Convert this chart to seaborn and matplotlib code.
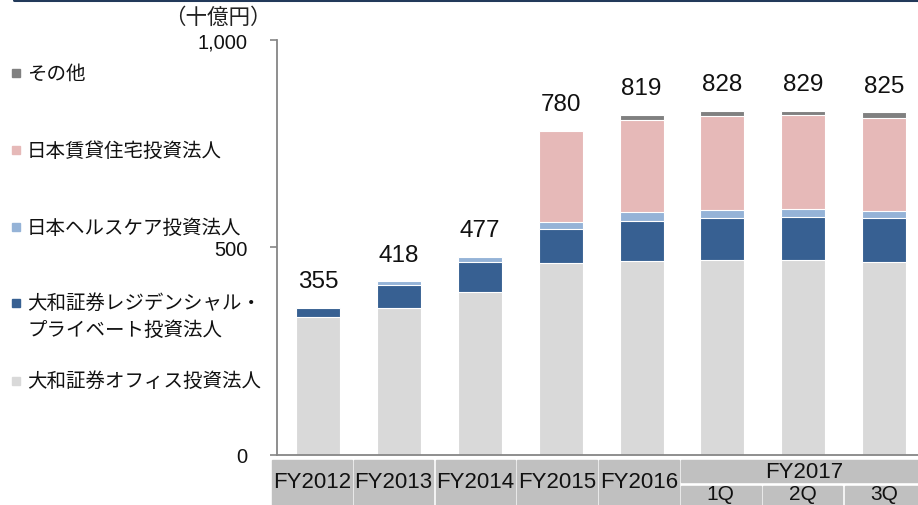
import numpy as np
import pandas as pd
import matplotlib
matplotlib.use("Agg")
import matplotlib.pyplot as plt
from matplotlib.patches import Rectangle
from matplotlib.lines import Line2D
import seaborn as sns

# Data (十億円)
periods = ["FY2012", "FY2013", "FY2014", "FY2015", "FY2016", "FY2017 1Q", "FY2017 2Q", "FY2017 3Q"]
cell_labels = ["FY2012", "FY2013", "FY2014", "FY2015", "FY2016", "1Q", "2Q", "3Q"]
group_label = "FY2017"
office = [333, 355, 393, 462, 468, 470, 470, 465]
residential = [22, 55, 71, 81, 96, 101, 103, 105]
healthcare = [0, 8, 13, 18, 21, 20, 20, 18]
rental = [0, 0, 0, 219, 222, 225, 225, 224]
other = [0, 0, 0, 0, 12, 12, 11, 13]

series_names = ["大和証券オフィス投資法人", "大和証券レジデンシャル・\nプライベート投資法人",
                "日本ヘルスケア投資法人", "日本賃貸住宅投資法人", "その他"]
colors = ["#d9d9d9", "#376092", "#95b3d7", "#e6b9b8", "#808080"]

JP = ["Noto Sans CJK JP", "DejaVu Sans"]
NUM = ["Liberation Sans", "DejaVu Sans"]

sns.set_theme(style="white")
plt.rcParams["font.family"] = JP

W, H = 918, 506
fig = plt.figure(figsize=(W / 100, H / 100), dpi=100)
ax = fig.add_axes([277 / W, 1 - 456 / H, (W - 277) / W, (456 - 40.7) / H])

df = pd.DataFrame({"period": periods, "office": office, "residential": residential,
                   "healthcare": healthcare, "rental": rental, "other": other})
layers = ["office", "residential", "healthcare", "rental", "other"]
cum = df[layers].cumsum(axis=1)

# draw cumulative bars from the top layer down so each overlaps the next
for name, col in reversed(list(zip(layers, colors))):
    sns.barplot(x=df["period"], y=cum[name], color=col, width=0.545,
                edgecolor="white", linewidth=0.8, saturation=1, ax=ax, order=periods)

totals = cum["other"].values
for i, t in enumerate(totals):
    ax.annotate(f"{t:d}", (i, t), xytext=(0, 15), textcoords="offset points",
                ha="center", va="baseline", fontsize=17.5, family=NUM, color="#111111")

ax.set_ylim(0, 1000)
ax.set_xlim(-0.51, 7.42)
ax.set_yticks([0, 500, 1000])
ax.set_yticklabels(["0", "500", "1,000"], family=NUM, fontsize=14.5)
ax.set_xticks([])
ax.set_xlabel("")
ax.set_ylabel("")
for s in ["top", "right"]:
    ax.spines[s].set_visible(False)
for s in ["left", "bottom"]:
    ax.spines[s].set_color("#868686")
    ax.spines[s].set_linewidth(1.3)
ax.tick_params(axis="y", direction="out", length=5, width=1.2, color="#868686",
               pad=16, left=True, labelcolor="#111111")

fig.text(218 / W, 1 - 18 / H, "（十億円）", ha="center", va="center", fontsize=15.5, color="#222222")

# category table under the axis
cell_color = "#c0c0c0"
step, cw = 81.8, 79.5
for i, lab in enumerate(cell_labels):
    x0 = 272 + i * step
    if i < 5:
        fig.patches.append(Rectangle((x0 / W, 0), cw / W, (506 - 460.7) / H,
                                     transform=fig.transFigure, color=cell_color, zorder=0))
        fig.text((x0 + cw / 2) / W, 1 - 483 / H, lab, ha="center", va="center",
                 fontsize=16, family=NUM, color="#111111")
    else:
        fig.patches.append(Rectangle((x0 / W, 0), min(cw, W - x0) / W, (506 - 486.7) / H,
                                     transform=fig.transFigure, color=cell_color, zorder=0))
        fig.text((x0 + cw / 2) / W, 1 - 495 / H, lab, ha="center", va="center",
                 fontsize=15, family=NUM, color="#111111")
gx0 = 272 + 5 * step
fig.patches.append(Rectangle((gx0 / W, 1 - 483.3 / H), (W - gx0) / W, (483.3 - 460.7) / H,
                             transform=fig.transFigure, color=cell_color, zorder=0))
fig.text((gx0 + 1.5 * step) / W, 1 - 472 / H, group_label, ha="center", va="center",
         fontsize=16, family=NUM, color="#111111")

# legend on the left
legend_y = [381.5, 303.5, 228, 151, 74]
for name, col, y in zip(series_names, colors, legend_y):
    fig.patches.append(Rectangle((12 / W, 1 - (y + 4) / H), 8 / W, 8 / H,
                                 transform=fig.transFigure, color=col))
    lines = name.split("\n")
    for k, line in enumerate(lines):
        fig.text(27 / W, 1 - (y + 27 * k) / H, line, ha="left", va="center",
                 fontsize=14, color="#111111")

# dark rule along the top
fig.add_artist(Line2D([14 / W, 1], [1 - 1.2 / H, 1 - 1.2 / H], color="#22395a",
                      linewidth=2.2, transform=fig.transFigure))

fig.savefig("out.png", dpi=100)
